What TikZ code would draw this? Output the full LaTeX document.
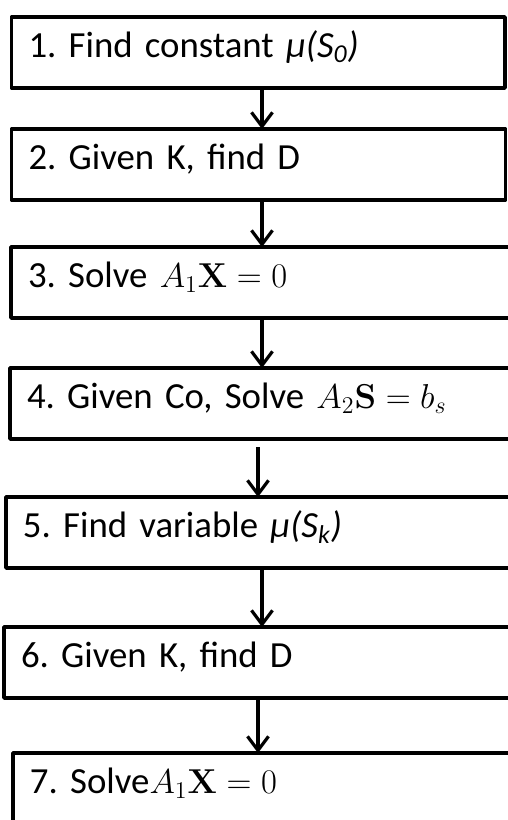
\documentclass[tikz,border=0pt]{standalone}
\usepackage[no-math]{fontspec}
\setmainfont{Carlito}
\frenchspacing
\usetikzlibrary{arrows.meta}
\tikzset{
  every picture/.style={line join=round, >={Straight Barb[length=7pt,width=10.5pt]}},
  stepbox/.style={draw, rectangle, line width=1.9pt, outer sep=0pt,
    inner xsep=8.5pt, inner ysep=0pt, minimum height=35.5pt,
    anchor=north west, align=left, text width=#1,
    text height=0.7em, text depth=0.2em,
    font=\fontsize{18.4}{22}\selectfont},
  stepbox/.default=270pt,
  flow/.style={->, line width=1.6pt},
}

\begin{document}
\begin{tikzpicture}[x=0.5pt,y=-0.5pt]
\useasboundingbox (0,0) rectangle (508,820);
\clip (0,0) rectangle (508,820);
\node[stepbox=229.75pt] (s1) at (11.5,17) {1. Find constant \textit{μ(S\textsubscript{0})}};
\node[stepbox=230pt] (s2) at (11.5,129) {2. Given K, find D};
\node[stepbox] (s3) at (11,247) {3. Solve $A_1\mathbf{X}=0$};
\node[stepbox] (s4) at (10,368) {4. Given Co, Solve $A_2\mathbf{S}=b_s$};
\node[stepbox] (s5) at (6,497) {5. Find variable \textit{μ(S\textsubscript{k})}};
\node[stepbox] (s6) at (4,627) {6. Given K, find D};
\node[stepbox] (s7) at (13,753) {7. Solve$A_1\mathbf{X}=0$};
% arrows between the steps
\draw[flow] (s1.south -| 262,0) -- (s2.north -| 262,0);
\draw[flow] (s2.south -| 262,0) -- (s3.north -| 262,0);
\draw[flow] (s3.south -| 262,0) -- (s4.north -| 262,0);
\draw[flow,shorten <=4pt] (s4.south -| 258,0) -- (s5.north -| 258,0);
\draw[flow] (s5.south -| 262,0) -- (s6.north -| 262,0);
\draw[flow] (s6.south -| 258,0) -- (s7.north -| 258,0);
\end{tikzpicture}
\end{document}
